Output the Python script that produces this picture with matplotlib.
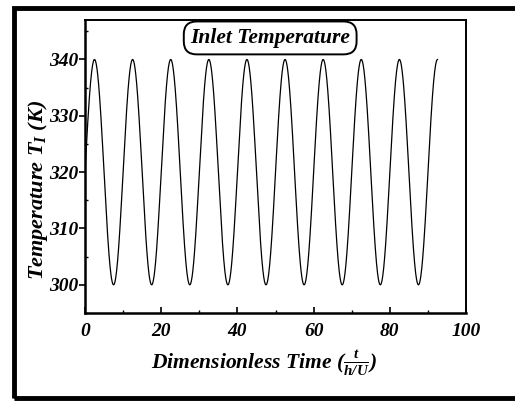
import numpy as np
import matplotlib
matplotlib.use('Agg')
import matplotlib.pyplot as plt
from matplotlib.patches import Rectangle
from matplotlib.ticker import MultipleLocator

# inlet temperature signal
T_mean = 320.0      # K
T_amp = 20.0        # K
period = 10.0       # dimensionless time
t_start = 0.0
t_end = 92.5

x_ticks = [0, 20, 40, 60, 80, 100]
y_ticks = [300, 310, 320, 330, 340]

plt.rcParams['font.family'] = 'Liberation Serif'
plt.rcParams['font.weight'] = 'bold'
plt.rcParams['font.style'] = 'italic'
plt.rcParams['axes.labelweight'] = 'bold'
plt.rcParams['mathtext.fontset'] = 'custom'
plt.rcParams['mathtext.rm'] = 'Liberation Serif:bold:italic'
plt.rcParams['mathtext.it'] = 'Liberation Serif:bold:italic'
plt.rcParams['mathtext.bf'] = 'Liberation Serif:bold:italic'

fig = plt.figure(figsize=(5.15, 4.01), dpi=100)
ax = fig.add_axes([0.165, 0.2195, 0.74, 0.7305])

t = np.linspace(t_start, t_end, 2000)
T = T_mean + T_amp * np.sin(2 * np.pi * t / period)
ax.plot(t, T, color='black', lw=0.9)

ax.set_xlim(0, 100)
ax.set_ylim(295, 347)
ax.set_xticks(x_ticks)
ax.set_yticks(y_ticks)
ax.xaxis.set_minor_locator(MultipleLocator(10))
ax.yaxis.set_minor_locator(MultipleLocator(5))
ax.tick_params(axis='x', which='major', direction='in', length=4, width=1.2,
               labelsize=14, pad=7)
ax.tick_params(axis='x', which='minor', direction='in', length=2, width=1)
ax.tick_params(axis='y', which='major', direction='out', length=4, width=1.2,
               labelsize=14, pad=1)
ax.tick_params(axis='y', which='minor', direction='in', length=2, width=1)
for lab in ax.get_xticklabels() + ax.get_yticklabels():
    lab.set_fontweight('bold')
    lab.set_fontstyle('italic')

for s in ['left', 'bottom']:
    ax.spines[s].set_linewidth(1.8)
for s in ['top', 'right']:
    ax.spines[s].set_linewidth(1.4)

ax.set_xlabel(r'Dimensionless Time ($\frac{t}{h/U}$)', fontsize=15.5,
              fontweight='bold', fontstyle='italic')
ax.set_ylabel(r'Temperature $T_I$ (K)', fontsize=16,
              fontweight='bold', fontstyle='italic')
ax.yaxis.set_label_coords(-0.092, 0.42)
ax.xaxis.set_label_coords(0.47, -0.12)

ax.text(0.486, 0.939, 'Inlet Temperature', transform=ax.transAxes,
        ha='center', va='center', fontsize=15.5, fontweight='bold',
        fontstyle='italic',
        bbox=dict(boxstyle='round,pad=0.3,rounding_size=0.6', fc='white',
                  ec='black', lw=1.4))

# thick outer frame (cut off on the right in the original)
fig.patches.append(Rectangle((14 / 515, 3 / 401), 1.0, 390 / 401,
                             transform=fig.transFigure, fill=False,
                             ec='black', lw=3.5))

fig.savefig('out.png', dpi=100)
